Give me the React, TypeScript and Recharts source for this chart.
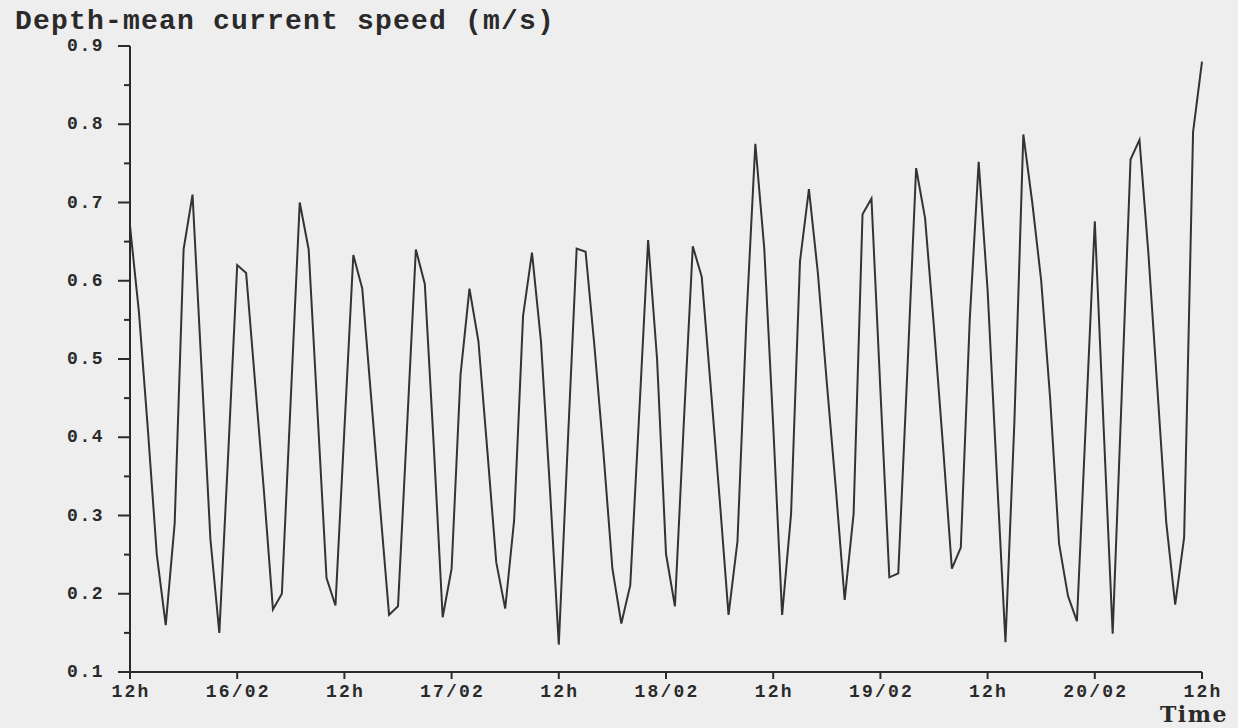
import { LineChart, Line, XAxis, YAxis } from 'recharts';

// Hourly depth-mean current speed (m/s), 15/02 12h -> 20/02 12h
const speed = [
  0.67, 0.56, 0.41, 0.25, 0.16, 0.29, 0.64, 0.71, 0.49, 0.27, 0.15,
  0.38, 0.62, 0.61, 0.47, 0.33, 0.18, 0.2, 0.45, 0.7, 0.64,
  0.43, 0.22, 0.185, 0.41, 0.633, 0.59, 0.45, 0.31, 0.173, 0.184,
  0.41, 0.64, 0.596, 0.39, 0.17, 0.232, 0.48, 0.59, 0.523, 0.383,
  0.24, 0.181, 0.294, 0.555, 0.636, 0.523, 0.336, 0.135, 0.39, 0.641,
  0.637, 0.515, 0.38, 0.232, 0.162, 0.211, 0.43, 0.652, 0.5, 0.251,
  0.184, 0.42, 0.644, 0.605, 0.465, 0.322, 0.173, 0.267, 0.55, 0.775,
  0.641, 0.415, 0.173, 0.302, 0.625, 0.717, 0.61, 0.47, 0.336, 0.192,
  0.302, 0.685, 0.705, 0.46, 0.221, 0.226, 0.48, 0.744, 0.68, 0.54,
  0.39, 0.232, 0.259, 0.55, 0.752, 0.588, 0.36, 0.138, 0.42, 0.787,
  0.7, 0.6, 0.45, 0.264, 0.197, 0.165, 0.42, 0.676, 0.41, 0.149,
  0.45, 0.755, 0.78, 0.635, 0.463, 0.291, 0.186, 0.272, 0.79, 0.88,
];

const timeTicks = [0, 12, 24, 36, 48, 60, 72, 84, 96, 108, 120];
const timeLabels = ['12h', '16/02', '12h', '17/02', '12h', '18/02', '12h', '19/02', '12h', '20/02', '12h'];
const speedTicks = [0.1, 0.15, 0.2, 0.25, 0.3, 0.35, 0.4, 0.45, 0.5, 0.55, 0.6, 0.65, 0.7, 0.75, 0.8, 0.85, 0.9];

const data = speed.map((v, i) => ({ hour: i, speed: v }));

const INK = '#2a2a2a';
const FONT = '"Liberation Mono", "DejaVu Sans Mono", monospace';
const SERIF = '"DejaVu Serif", serif';

// y ticks: long mark + label every 0.1, short mark at the 0.05 steps
const SpeedTick = ({ x, y, payload }: any) => {
  const major = Math.round(payload.value * 100) % 10 === 0;
  return (
    <g>
      <line x1={x - (major ? 12 : 6)} x2={x} y1={y} y2={y} stroke={INK} strokeWidth={2} />
      {major && (
        <text
          x={x - 26}
          y={y + 5}
          textAnchor="end"
          fill={INK}
          fontFamily={FONT}
          fontWeight="bold"
          fontSize={18}
          letterSpacing={1.5}
        >
          {payload.value.toFixed(1)}
        </text>
      )}
    </g>
  );
};

const TimeTick = ({ x, y, payload }: any) => {
  const idx = timeTicks.indexOf(payload.value);
  return (
    <g>
      <line x1={x} x2={x} y1={y} y2={y + 7} stroke={INK} strokeWidth={2} />
      <text
        x={x + 1}
        y={y + 25}
        textAnchor="middle"
        fill={INK}
        fontFamily={FONT}
        fontWeight="bold"
        fontSize={18}
        letterSpacing={2.2}
      >
        {timeLabels[idx]}
      </text>
    </g>
  );
};

export default function App() {
  return (
    <div
      style={{
        position: 'fixed',
        left: 0,
        top: 0,
        width: 1238,
        height: 728,
        background: '#eeeeee',
        overflow: 'hidden',
      }}
    >
      <div
        style={{
          position: 'absolute',
          left: 15,
          top: 8,
          fontFamily: FONT,
          fontWeight: 'bold',
          fontSize: 28,
          lineHeight: '28px',
          letterSpacing: 1.2,
          color: INK,
          whiteSpace: 'nowrap',
        }}
      >
        Depth-mean current speed (m/s)
      </div>
      <div
        style={{
          position: 'absolute',
          right: 10,
          top: 703,
          fontFamily: SERIF,
          fontWeight: 'bold',
          fontSize: 22,
          lineHeight: '22px',
          letterSpacing: 1.5,
          color: INK,
          whiteSpace: 'nowrap',
        }}
      >
        Time
      </div>
      <LineChart
        width={1238}
        height={728}
        data={data}
        margin={{ top: 46, right: 36, bottom: 26, left: 70 }}
      >
        <XAxis
          dataKey="hour"
          type="number"
          domain={[0, 120]}
          ticks={timeTicks}
          interval={0}
          height={30}
          tickSize={0}
          tickMargin={0}
          tickLine={false}
          axisLine={{ stroke: INK, strokeWidth: 2 }}
          tick={<TimeTick />}
        />
        <YAxis
          type="number"
          domain={[0.1, 0.9]}
          ticks={speedTicks}
          interval={0}
          width={60}
          tickSize={0}
          tickMargin={0}
          tickLine={false}
          axisLine={{ stroke: INK, strokeWidth: 2 }}
          tick={<SpeedTick />}
        />
        <Line
          type="linear"
          dataKey="speed"
          stroke="#333333"
          strokeWidth={2}
          dot={false}
          isAnimationActive={false}
        />
      </LineChart>
    </div>
  );
}
